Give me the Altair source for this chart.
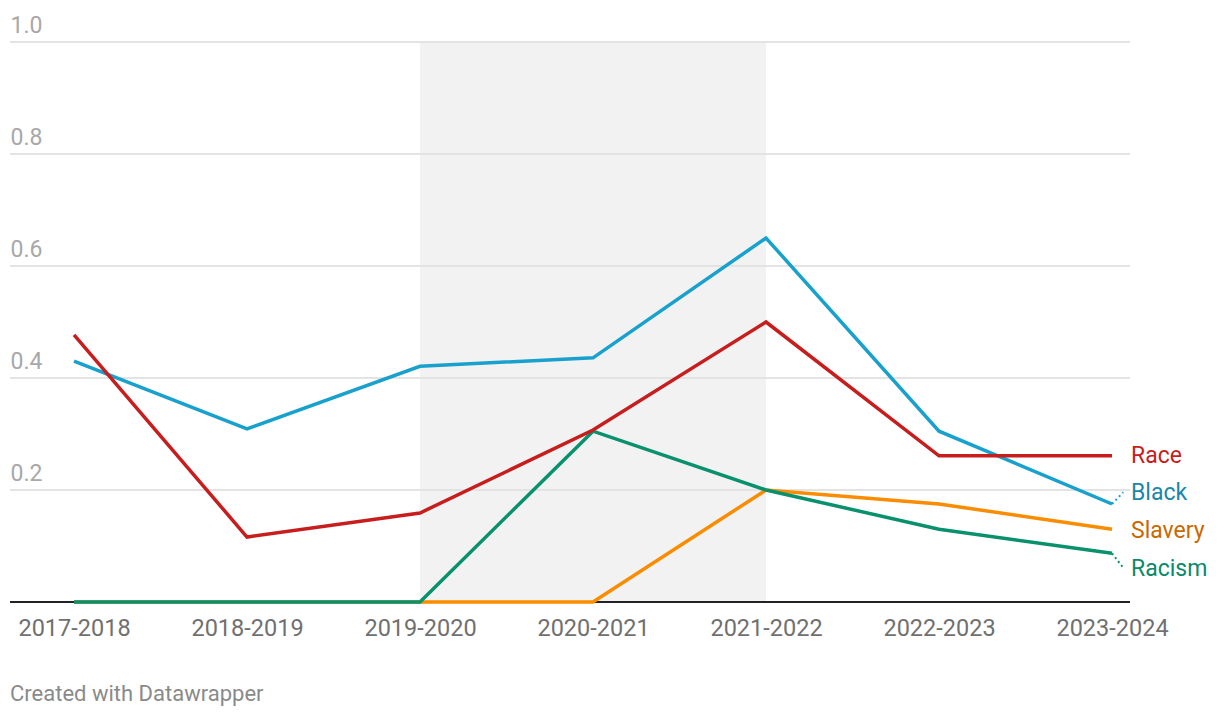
import json
import altair as alt
import pandas as pd

years = ["2017-2018", "2018-2019", "2019-2020", "2020-2021", "2021-2022", "2022-2023", "2023-2024"]
series = ["Slavery", "Racism", "Black", "Race"]
race = [0.477, 0.116, 0.159, 0.307, 0.500, 0.261, 0.261]
black = [0.430, 0.309, 0.421, 0.436, 0.650, 0.305, 0.175]
racism = [0.0, 0.0, 0.0, 0.305, 0.200, 0.130, 0.087]
slavery = [0.0, 0.0, 0.0, 0.0, 0.200, 0.175, 0.130]
values = {"Race": race, "Black": black, "Racism": racism, "Slavery": slavery}

line_colors = {"Race": "#c71e1d", "Black": "#18a1cd", "Slavery": "#fa8c00", "Racism": "#09916d"}
label_colors = {"Race": "#c71e1d", "Black": "#1a87ad", "Slavery": "#c96800", "Racism": "#0a8a6a"}
# label vertical positions (layout, in data units)
label_pos = {"Race": 0.263, "Black": 0.196, "Slavery": 0.129, "Racism": 0.061}

highlight_start, highlight_end = 2, 4

rows = []
for s in series:
    for i, v in enumerate(values[s]):
        rows.append({"series": s, "i": i, "year": years[i], "value": v})
df = pd.DataFrame(rows)

W, H = 1120, 560
xdom = [-0.37, 6.104]
FONT = "Roboto"

xs = alt.Scale(domain=xdom, nice=False, zero=False)
ys = alt.Scale(domain=[0, 1], nice=False)

label_expr = json.dumps(years) + "[datum.value]"

band = alt.Chart(pd.DataFrame({"a": [highlight_start], "b": [highlight_end]})).mark_rect(
    color="#f2f2f2"
).encode(
    x=alt.X("a:Q", scale=xs, axis=alt.Axis(values=list(range(len(years))), labelExpr=label_expr,
                                           domain=False, ticks=False, grid=False, title=None,
                                           labelFont=FONT, labelFontSize=23.5, labelColor="#707070",
                                           labelPadding=14, labelFlush=False)),
    x2="b:Q",
    y=alt.value(0),
    y2=alt.value(H),
)

grid = alt.Chart(pd.DataFrame({"v": [0.2, 0.4, 0.6, 0.8, 1.0]})).mark_rule(
    color="#e3e3e3", strokeWidth=2
).encode(
    y=alt.Y("v:Q", scale=ys, axis=alt.Axis(values=[0.2, 0.4, 0.6, 0.8, 1.0], format=".1f",
                                           domain=False, ticks=False, grid=False, title=None,
                                           labelAlign="left", labelBaseline="alphabetic",
                                           labelOffset=-10, labelPadding=0,
                                           labelFont=FONT, labelFontSize=23, labelColor="#a8a8a8")),
    x=alt.value(0),
    x2=alt.value(W),
)

baseline = alt.Chart(pd.DataFrame({"v": [0.0]})).mark_rule(color="#222222", strokeWidth=2).encode(
    y=alt.Y("v:Q", scale=ys), x=alt.value(0), x2=alt.value(W)
)

line_layers = [
    alt.Chart(df[df.series == s]).mark_line(strokeWidth=3.5, color=line_colors[s]).encode(
        x=alt.X("i:Q", scale=xs), y=alt.Y("value:Q", scale=ys)
    )
    for s in series
]

lab_df = pd.DataFrame({
    "series": list(label_pos.keys()),
    "ly": list(label_pos.values()),
    "end": [values[s][-1] for s in label_pos.keys()],
    "x": [len(years) - 1] * len(label_pos),
})
labels = alt.Chart(lab_df).mark_text(align="left", baseline="middle", font=FONT, fontSize=23, dx=19, dy=1).encode(
    x=alt.X("x:Q", scale=xs),
    y=alt.Y("ly:Q", scale=ys),
    text="series:N",
    color=alt.Color("series:N", scale=alt.Scale(domain=list(label_colors.keys()),
                                                range=list(label_colors.values())), legend=None),
)

conn_df = lab_df[(lab_df["end"] - lab_df["ly"]).abs() > 0.01].copy()
conn_df["x2"] = conn_df["x"] + 0.065
connectors = alt.Chart(conn_df).mark_rule(strokeDash=[2, 3], strokeWidth=2).encode(
    x=alt.X("x:Q", scale=xs),
    x2="x2:Q",
    y=alt.Y("end:Q", scale=ys),
    y2="ly:Q",
    color=alt.Color("series:N", scale=alt.Scale(domain=list(line_colors.keys()),
                                                range=list(line_colors.values())), legend=None),
)

footer = alt.Chart(pd.DataFrame({"t": ["Created with Datawrapper"]})).mark_text(
    align="left", baseline="alphabetic", font=FONT, fontSize=22, color="#8a8a8a"
).encode(text="t:N", x=alt.value(0), y=alt.value(H + 99))

chart = alt.layer(band, grid, baseline, *line_layers, connectors, labels, footer).resolve_scale(
    color="independent"
).properties(
    width=W, height=H,
    autosize=alt.AutoSizeParams(type="none"),
    padding={"left": 2, "top": 34, "right": 80, "bottom": 110},
).configure(background="white").configure_view(stroke=None)

chart.save("out.html", embed_options={"renderer": "svg", "actions": False})
